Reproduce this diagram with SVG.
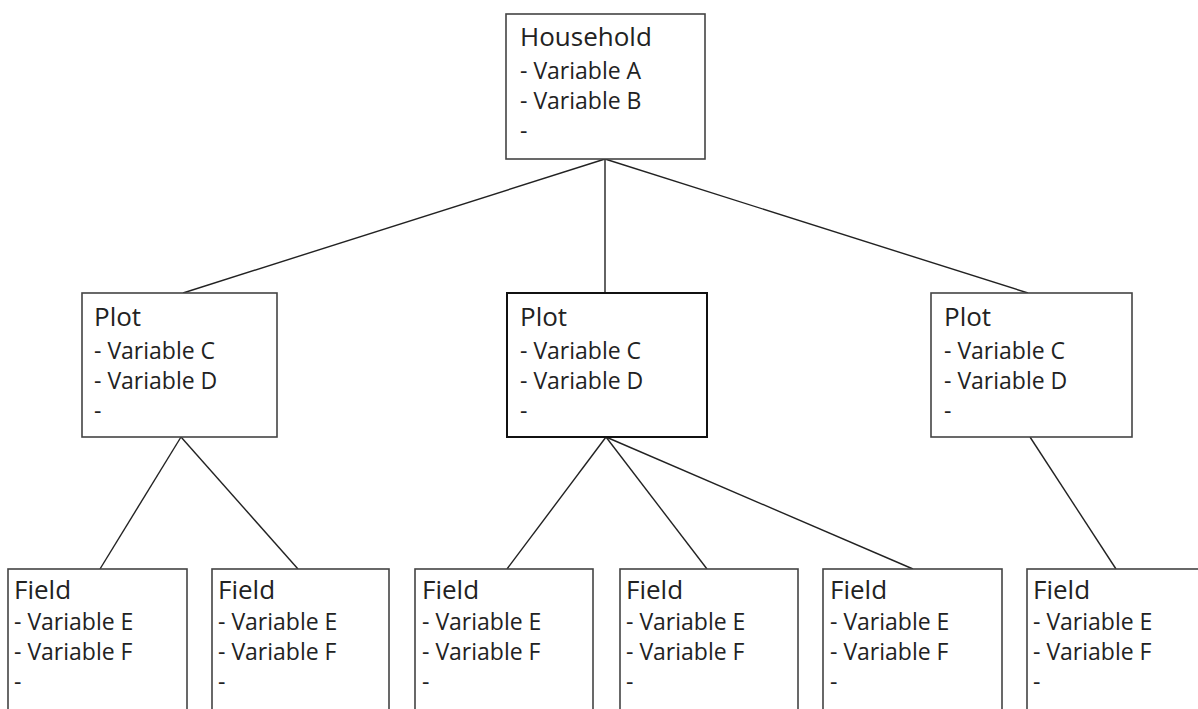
<svg xmlns="http://www.w3.org/2000/svg" width="1198" height="709" viewBox="0 0 1198 709">
<style>
.box{fill:#fff;stroke:#444;stroke-width:1.6}
.box.bold{stroke:#111;stroke-width:2}
.edge{stroke:#222;stroke-width:1.4;fill:none}
text{font-family:"Open Sans","Noto Sans","Liberation Sans",sans-serif;font-size:23px;fill:#222}
.t{font-size:26px}
</style>
<rect width="1198" height="709" fill="#fff"/>
<g id="connectors">
<line class="edge" x1="605" y1="159" x2="183" y2="293"/>
<line class="edge" x1="605" y1="159" x2="605" y2="293"/>
<line class="edge" x1="605" y1="159" x2="1028" y2="293"/>
<line class="edge" x1="181" y1="437" x2="100" y2="569"/>
<line class="edge" x1="181" y1="437" x2="298" y2="569"/>
<line class="edge" x1="606" y1="437" x2="507" y2="569"/>
<line class="edge" x1="606" y1="437" x2="707" y2="569"/>
<line class="edge" x1="606" y1="437" x2="913" y2="569"/>
<line class="edge" x1="1030" y1="437" x2="1116" y2="569"/>
</g>
<g id="household">
<rect class="box" x="506" y="14" width="199" height="145"/>
<text x="520" y="46" class="t">Household</text>
<text x="520" y="79">- Variable A</text>
<text x="520" y="109">- Variable B</text>
<text x="520" y="139">-</text>
</g>
<g id="plot1">
<rect class="box" x="82" y="293" width="195" height="144"/>
<text x="94" y="326" class="t">Plot</text>
<text x="94" y="359">- Variable C</text>
<text x="94" y="389">- Variable D</text>
<text x="94" y="419">-</text>
</g>
<g id="plot2">
<rect class="box bold" x="507" y="293" width="200" height="144"/>
<text x="520" y="326" class="t">Plot</text>
<text x="520" y="359">- Variable C</text>
<text x="520" y="389">- Variable D</text>
<text x="520" y="419">-</text>
</g>
<g id="plot3">
<rect class="box" x="931" y="293" width="201" height="144"/>
<text x="944" y="326" class="t">Plot</text>
<text x="944" y="359">- Variable C</text>
<text x="944" y="389">- Variable D</text>
<text x="944" y="419">-</text>
</g>
<g id="field1">
<rect class="box" x="8" y="569" width="179" height="160"/>
<text x="14" y="599" class="t">Field</text>
<text x="14" y="630">- Variable E</text>
<text x="14" y="660">- Variable F</text>
<text x="14" y="690">-</text>
</g>
<g id="field2">
<rect class="box" x="212" y="569" width="177" height="160"/>
<text x="218" y="599" class="t">Field</text>
<text x="218" y="630">- Variable E</text>
<text x="218" y="660">- Variable F</text>
<text x="218" y="690">-</text>
</g>
<g id="field3">
<rect class="box" x="415" y="569" width="178" height="160"/>
<text x="422" y="599" class="t">Field</text>
<text x="422" y="630">- Variable E</text>
<text x="422" y="660">- Variable F</text>
<text x="422" y="690">-</text>
</g>
<g id="field4">
<rect class="box" x="620" y="569" width="178" height="160"/>
<text x="626" y="599" class="t">Field</text>
<text x="626" y="630">- Variable E</text>
<text x="626" y="660">- Variable F</text>
<text x="626" y="690">-</text>
</g>
<g id="field5">
<rect class="box" x="823" y="569" width="179" height="160"/>
<text x="830" y="599" class="t">Field</text>
<text x="830" y="630">- Variable E</text>
<text x="830" y="660">- Variable F</text>
<text x="830" y="690">-</text>
</g>
<g id="field6">
<rect class="box" x="1027" y="569" width="180" height="160"/>
<text x="1033" y="599" class="t">Field</text>
<text x="1033" y="630">- Variable E</text>
<text x="1033" y="660">- Variable F</text>
<text x="1033" y="690">-</text>
</g>
</svg>
